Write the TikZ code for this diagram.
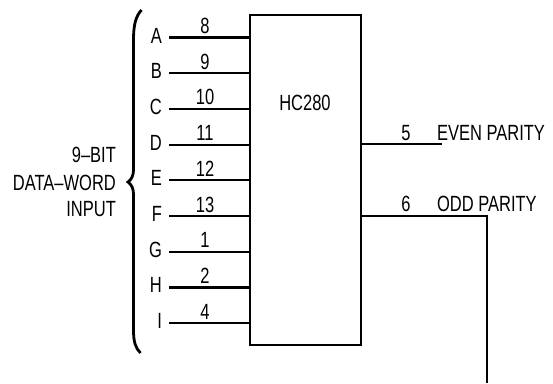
\documentclass[tikz,border=0pt]{standalone}
\usepackage{fontspec}
\setmainfont[FakeStretch=0.75]{Liberation Sans}
\begin{document}
\begin{tikzpicture}[x=1pt,y=-1pt,line width=2.2pt,
  txt/.style={inner sep=0pt,font=\fontsize{22}{27}\selectfont},
  pin/.style={txt,anchor=base},
  lett/.style={txt,anchor=base east},
  wire/.style={line width=2.2pt}]
\useasboundingbox (0,0) rectangle (553,383);
\node[draw,line width=2.2pt,minimum width=111pt,minimum height=330pt,inner sep=0pt] (chip) at (305.5,180) {};
\node[pin] (name) at (305,110) {HC280};
\foreach \l/\p [count=\i from 0] in {A/8,B/9,C/10,D/11,E/12,F/13,G/1,H/2,I/4}{
  \pgfmathsetmacro{\yy}{37.5+35.7*\i}
  \coordinate (p\l) at (169,\yy);
  \node[lett] (l\l) at (163,\yy+5.5) {\l};
  \node[pin] (n\l) at (205,\yy-4) {\p};
  \draw[wire] (p\l) -- (p\l -| chip.west);
}
\coordinate (ev) at (442,144);
\draw[wire] (chip.east |- ev) -- (ev);
\node[pin] (n5) at (406,140) {5};
\node[txt,anchor=base west] (evl) at (436,140) {EVEN PARITY};
\coordinate (od) at (487,216);
\coordinate (odb) at (487,383);
\draw[wire] (chip.east |- od) -- (od) -- (odb);
\node[pin] (n6) at (406,211) {6};
\node[txt,anchor=base west] (odl) at (436,211) {ODD PARITY};
\draw[line width=2.8pt] (141.5,10) .. controls (136,16) and (133.5,24) .. (133.5,40) -- (133.5,170) .. controls (133.5,176) and (131,180) .. (128,182) .. controls (131,184) and (133.5,188) .. (133.5,194) -- (133.5,330) .. controls (133.5,342) and (135.5,348) .. (140.5,353);
\node[txt,anchor=base east] (t1) at (117,162) {9–BIT};
\node[txt,anchor=base east] (t2) at (117,190) {DATA–WORD};
\node[txt,anchor=base east] (t3) at (117,216) {INPUT};
\end{tikzpicture}
\end{document}
